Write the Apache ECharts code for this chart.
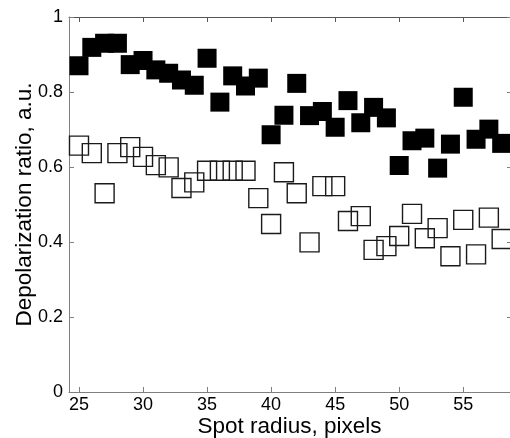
<!DOCTYPE html>
<html>
<head>
<meta charset="utf-8">
<script src="https://cdn.jsdelivr.net/npm/echarts@6/dist/echarts.min.js"></script>
<style>html,body{margin:0;padding:0;background:#fff}#c{width:510px;height:438px}</style>
</head>
<body>
<div id="c"></div>
<script>
const xValues = [25,26,27,28,29,30,31,32,33,34,35,36,37,38,39,40,41,42,43,44,45,46,47,48,49,50,51,52,53,54,55,56,57,58];
const filledValues = [0.870,0.919,0.930,0.930,0.873,0.884,0.859,0.850,0.832,0.818,0.890,0.773,0.843,0.816,0.837,0.686,0.738,0.823,0.737,0.748,0.706,0.777,0.718,0.759,0.731,0.604,0.670,0.677,0.597,0.661,0.786,0.674,0.701,0.663];
const openValues = [0.657,0.637,0.530,0.637,0.653,0.627,0.605,0.599,0.544,0.559,0.590,0.590,0.590,0.590,0.517,0.448,0.586,0.530,0.399,0.549,0.549,0.456,0.469,0.379,0.389,0.416,0.475,0.410,0.437,0.362,0.459,0.367,0.465,0.408];
const xTicks = [25,30,35,40,45,50,55];

const chart = echarts.init(document.getElementById('c'));
const axisGray = '#7f7f7f';
const font = 'Liberation Sans, Arial, sans-serif';
chart.setOption({
  animation: false,
  grid: {left: 69, right: 0, top: 17, bottom: 46, containLabel: false, outerBoundsMode: 'none'},
  xAxis: [{
    type: 'value', min: 24.22, max: 58.65,
    name: 'Spot radius, pixels', nameLocation: 'middle', nameGap: 23, nameMoveOverlap: false,
    nameTextStyle: {fontFamily: font, fontSize: 22.5, color: '#000', verticalAlign: 'top'},
    axisLine: {show: true, lineStyle: {color: axisGray, width: 1}},
    axisTick: {show: true, inside: true, length: 5, customValues: xTicks, lineStyle: {color: axisGray}},
    axisLabel: {customValues: xTicks, fontFamily: font, fontSize: 18, color: '#000', margin: 4},
    splitLine: {show: false}
  }, {
    type: 'value', position: 'top', min: 24.22, max: 58.65,
    axisLine: {show: true, onZero: false, lineStyle: {color: '#555', width: 1}},
    axisTick: {show: true, inside: true, length: 5, customValues: xTicks, lineStyle: {color: '#555'}},
    axisLabel: {show: false},
    splitLine: {show: false}
  }],
  yAxis: [{
    type: 'value', min: 0, max: 1, interval: 0.2,
    name: 'Depolarization ratio, a.u.', nameLocation: 'middle', nameGap: 33, nameMoveOverlap: false,
    nameTextStyle: {fontFamily: font, fontSize: 22.5, color: '#000'},
    axisLine: {show: true, lineStyle: {color: axisGray, width: 1}},
    axisTick: {show: true, inside: true, length: 5, lineStyle: {color: axisGray}},
    axisLabel: {fontFamily: font, fontSize: 18, color: '#000', margin: 6},
    splitLine: {show: false}
  }, {
    type: 'value', position: 'right', min: 0, max: 1, interval: 0.2,
    axisLine: {show: false},
    axisTick: {show: true, inside: true, length: 3, lineStyle: {color: axisGray}},
    axisLabel: {show: false},
    splitLine: {show: false}
  }],
  series: [{
    type: 'scatter', symbol: 'rect', symbolSize: 19,
    itemStyle: {color: 'rgba(0,0,0,0)', borderColor: '#1a1a1a', borderWidth: 1.4, opacity: 1},
    data: xValues.map((x, i) => [x, openValues[i]])
  }, {
    type: 'scatter', symbol: 'rect', symbolSize: 19,
    itemStyle: {color: '#000', opacity: 1},
    data: xValues.map((x, i) => [x, filledValues[i]])
  }]
});
</script>
</body>
</html>
